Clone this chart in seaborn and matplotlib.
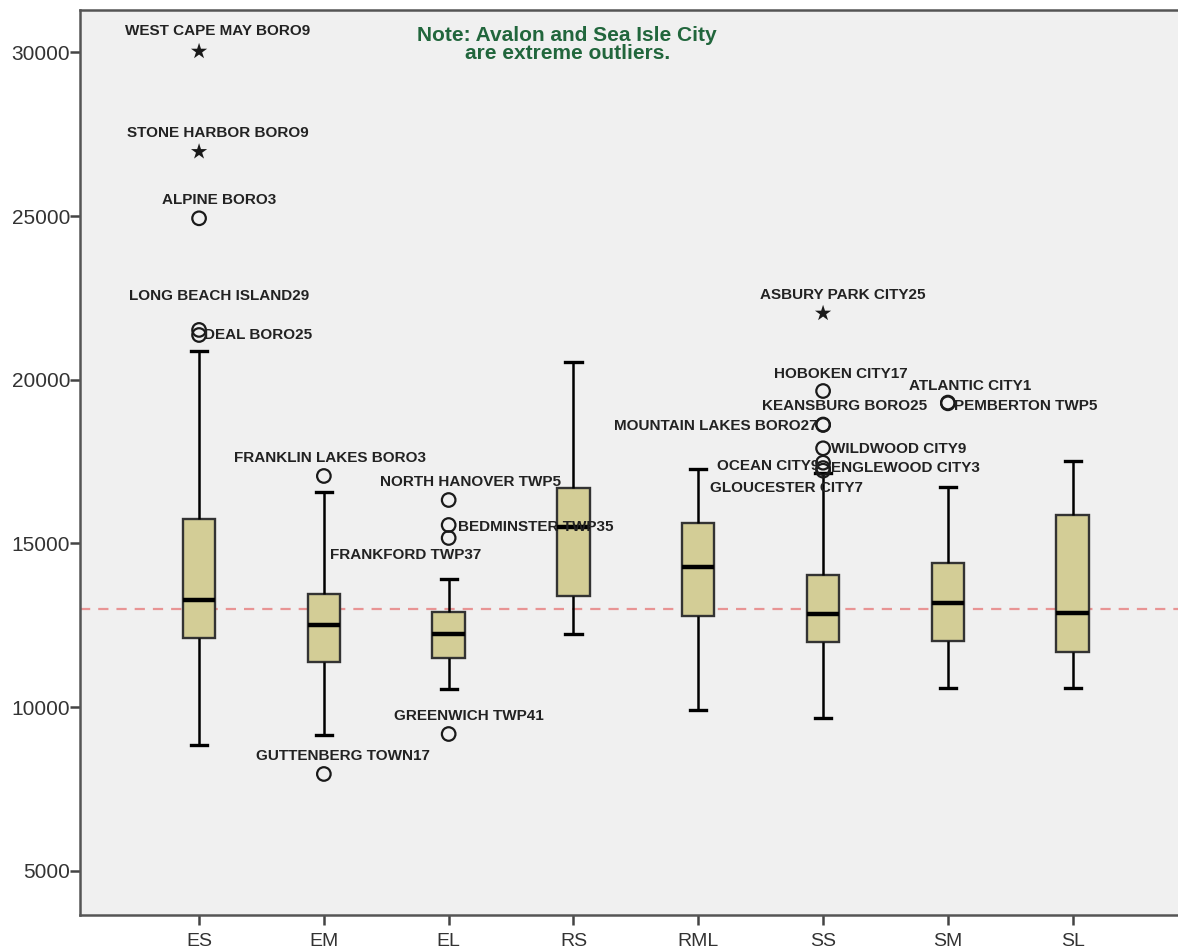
import numpy as np
import pandas as pd
import matplotlib
matplotlib.use("Agg")
import matplotlib.pyplot as plt
import seaborn as sns

# ---------------- data ----------------
categories = ["ES", "EM", "EL", "RS", "RML", "SS", "SM", "SL"]
whisker_low = [8840, 9146, 10551, 12222, 9910, 9656, 10572, 10572]
q1 = [12100, 11376, 11498, 13392, 12781, 11977, 12017, 11672]
median = [13270, 12506, 12231, 15491, 14287, 12842, 13188, 12864]
q3 = [15744, 13453, 12903, 16682, 15613, 14033, 14391, 15866]
whisker_high = [20876, 16569, 13911, 20549, 17272, 17150, 16712, 17516]

outlier_names = [
    "WEST CAPE MAY BORO9", "STONE HARBOR BORO9", "ALPINE BORO3",
    "LONG BEACH ISLAND29", "DEAL BORO25",
    "FRANKLIN LAKES BORO3", "GUTTENBERG TOWN17",
    "NORTH HANOVER TWP5", "BEDMINSTER TWP35", "FRANKFORD TWP37", "GREENWICH TWP41",
    "ASBURY PARK CITY25", "HOBOKEN CITY17", "KEANSBURG BORO25", "MOUNTAIN LAKES BORO27",
    "WILDWOOD CITY9", "OCEAN CITY9", "ENGLEWOOD CITY3", "GLOUCESTER CITY7",
    "ATLANTIC CITY1", "PEMBERTON TWP5",
]
outlier_groups = [
    "ES", "ES", "ES", "ES", "ES",
    "EM", "EM",
    "EL", "EL", "EL", "EL",
    "SS", "SS", "SS", "SS", "SS", "SS", "SS", "SS",
    "SM", "SM",
]
outlier_values = [
    30030, 26964, 24930, 21520, 21365,
    17058, 7955,
    16324, 15561, 15164, 9176,
    22028, 19654, 18630, 18616, 17904, 17464, 17300, 17220,
    19300, 19278,
]
outlier_extreme = [
    True, True, False, False, False,
    False, False,
    False, False, False, False,
    True, False, False, False, False, False, False, False,
    False, False,
]
reference_value = 13000
note_text = "Note: Avalon and Sea Isle City\nare extreme outliers."

# label layout (pixel offsets from the point, image-down positive) and alignment
label_layout = [
    (19, -20, "center"), (19, -19, "center"), (20, -18, "center"),
    (20, -34, "center"), (5, 0, "left"),
    (6, -18, "center"), (19, -18, "center"),
    (22, -18, "center"), (9, 2, "left"), (-43, 17, "center"), (20, -18, "center"),
    (20, -18, "center"), (18, -17, "center"), (21, -19, "center"), (-6, 1, "right"),
    (8, 1, "left"), (-4, 3, "right"), (8, 0, "left"), (-37, 17, "center"),
    (22, -17, "center"), (6, 3, "left"),
]

# ---------------- build table ----------------
rows = []
for c, lo, a, m, b, hi in zip(categories, whisker_low, q1, median, q3, whisker_high):
    for v in (lo, a, m, b, hi):
        rows.append({"group": c, "value": v})
df = pd.DataFrame(rows)

plt.rcParams["font.family"] = ["Liberation Sans", "DejaVu Sans"]

fig = plt.figure(figsize=(11.78, 9.49), dpi=100)
ax = fig.add_axes([80 / 1178, 34 / 949, 1110 / 1178, 905 / 949])
ax.set_facecolor("#F0F0F0")

ax.axhline(reference_value, color="#E89494", lw=1.6, ls=(0, (4.6, 3.6)), zorder=1)

sns.boxplot(
    data=df, x="group", y="value", order=categories, ax=ax,
    whis=(0, 100), showfliers=False, width=0.26,
    color="#D3CD96", saturation=1, linecolor="#2A2A2A", linewidth=1.6,
    medianprops={"color": "black", "linewidth": 3.2},
    whiskerprops={"color": "black", "linewidth": 1.8},
    capprops={"color": "black", "linewidth": 2.4},
    boxprops={"edgecolor": "#333333", "linewidth": 1.7, "zorder": 2},
)

pos = np.array([categories.index(g) for g in outlier_groups], dtype=float)
vals = np.array(outlier_values, dtype=float)
ext = np.array(outlier_extreme)

sns.scatterplot(x=pos[~ext], y=vals[~ext], ax=ax, marker="o", s=95,
                facecolor="none", edgecolor="#1A1A1A", linewidth=1.6,
                legend=False, zorder=4)
sns.scatterplot(x=pos[ext], y=vals[ext], ax=ax, marker="*", s=150,
                color="#1A1A1A", edgecolor="none", legend=False, zorder=4)

for name, x, y, (dx, dy, ha) in zip(outlier_names, pos, vals, label_layout):
    ax.annotate(name, (x, y), xytext=(dx, -dy), textcoords="offset pixels",
                ha=ha, va="center", fontsize=11, fontweight="bold",
                color="#222222", zorder=5)

ax.text(2.95, 30230, note_text, ha="center", va="center", fontsize=15,
        fontweight="bold", color="#21663C", linespacing=0.92)

ax.set_xlim(-0.954, 7.94)
ax.set_ylim(3647, 31293)
ax.set_yticks([5000, 10000, 15000, 20000, 25000, 30000])
ax.set_yticklabels(["5000", "10000", "15000", "20000", "25000", "30000"])
ax.set_xlabel("")
ax.set_ylabel("")
ax.grid(False)

for side in ["left", "bottom", "top"]:
    ax.spines[side].set_color("#555555")
    ax.spines[side].set_linewidth(1.8)
ax.spines["right"].set_visible(False)

ax.tick_params(axis="y", length=7, width=1.8, color="#444444",
               labelsize=15, labelcolor="#333333", pad=0)
ax.tick_params(axis="x", length=7, width=1.8, color="#444444",
               labelsize=14, labelcolor="#333333", pad=6)

fig.savefig("out.png", dpi=100, facecolor="white")
